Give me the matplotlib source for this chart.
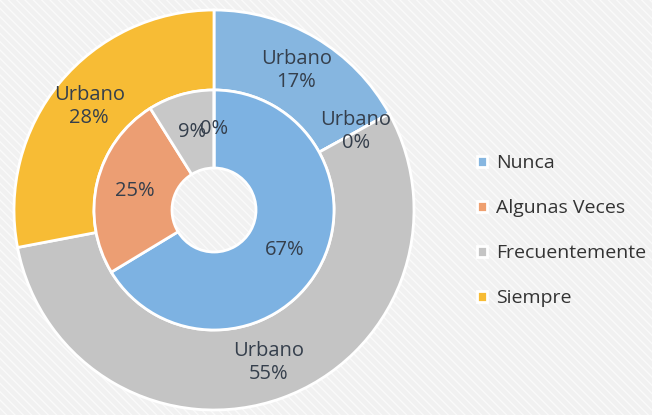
import numpy as np
import matplotlib.pyplot as plt
from matplotlib.patches import Rectangle

# Categories and data
categories = ['Nunca', 'Algunas Veces', 'Frecuentemente', 'Siempre']
outer_values = [17, 0, 55, 28]   # outer ring
inner_values = [67, 25, 9, 0]    # inner ring
outer_labels = ['Urbano\n17%', 'Urbano\n0%', 'Urbano\n55%', 'Urbano\n28%']
inner_labels = ['67%', '25%', '9%', '0%']

outer_colors = ['#86B6E0', '#EFA070', '#C4C4C4', '#F7BC35']
inner_colors = ['#7DB2E2', '#EC9E73', '#C8C8C8', '#F7BC35']

plt.rcParams['font.family'] = ['Open Sans', 'DejaVu Sans']

fig = plt.figure(figsize=(6.52, 4.15), dpi=100)
fig.patch.set_facecolor('#F1F1F1')
bg = Rectangle((0, 0), 1, 1, transform=fig.transFigure, facecolor='#F1F1F1',
               edgecolor='#FAFAFA', hatch='\\\\\\\\', linewidth=0, zorder=-10)
fig.patches.append(bg)

ax = fig.add_axes([14 / 652, 5 / 415, 400 / 652, 400 / 415])
ax.set_facecolor('none')

outer, _ = ax.pie(outer_values, radius=1.0, colors=outer_colors, startangle=90,
                  counterclock=False,
                  wedgeprops=dict(width=0.4, edgecolor='white', linewidth=2))
inner, _ = ax.pie(inner_values, radius=0.6, colors=inner_colors, startangle=90,
                  counterclock=False,
                  wedgeprops=dict(width=0.39, edgecolor='white', linewidth=2))


def place_labels(wedges, labels, r):
    for w, lab in zip(wedges, labels):
        ang = np.deg2rad((w.theta1 + w.theta2) / 2)
        ax.text(r * np.cos(ang), r * np.sin(ang), lab, ha='center', va='center',
                fontsize=14.5, color='#353F4C', linespacing=1.2)


place_labels(outer, outer_labels, 0.81)
place_labels(inner, inner_labels, 0.405)

ax.set_xlim(-1, 1)
ax.set_ylim(-1, 1)
ax.set_aspect('equal')
ax.axis('off')

fig.legend(outer, categories, loc='center left', bbox_to_anchor=(0.705, 0.444),
           frameon=False, fontsize=14, handlelength=0.5, handleheight=0.5,
           handletextpad=0.45, labelspacing=1.38, labelcolor='#333333')

fig.savefig('out.png', dpi=100, facecolor=fig.get_facecolor())
